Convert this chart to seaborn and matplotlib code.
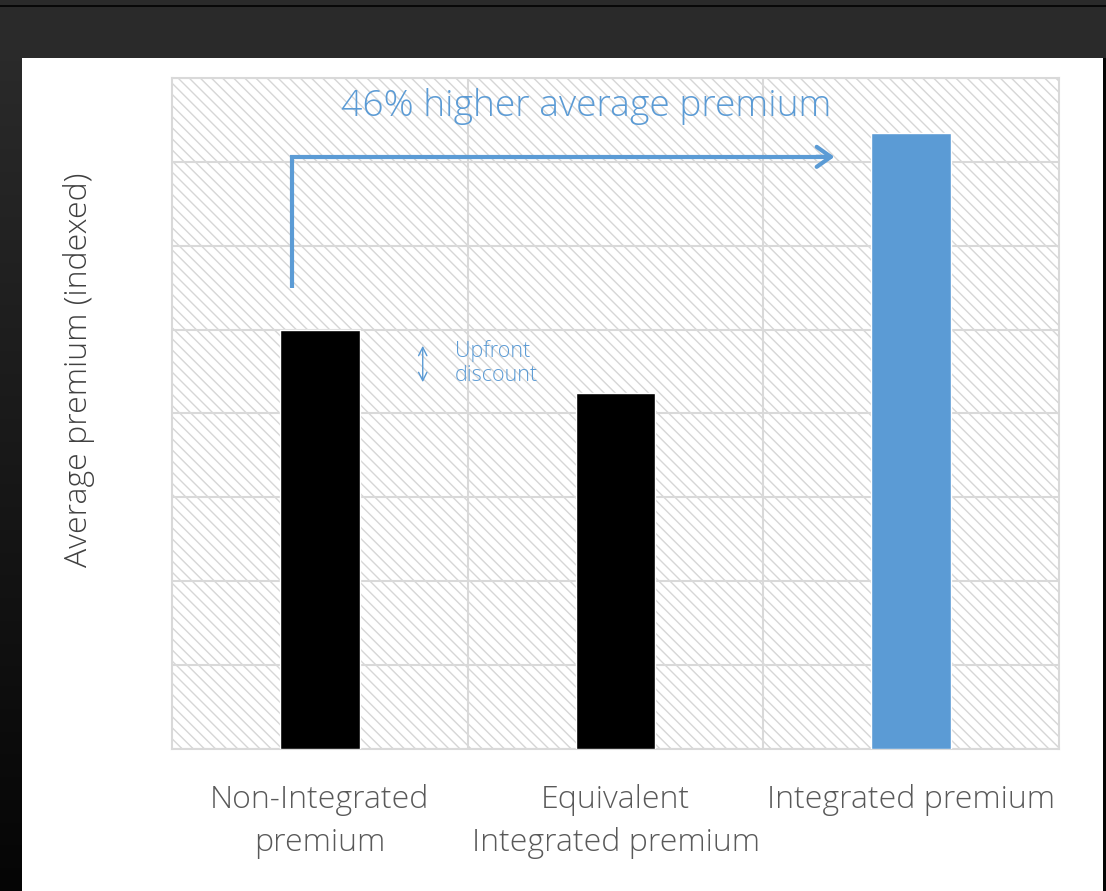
import numpy as np
import pandas as pd
import matplotlib
matplotlib.use("Agg")
import matplotlib.pyplot as plt
from matplotlib.patches import Rectangle
from matplotlib.lines import Line2D
import seaborn as sns

# Chart data (indexed premium, non-integrated = 100)
categories = ["Non-Integrated\npremium", "Equivalent\nIntegrated premium", "Integrated premium"]
values = [100, 85, 147]
bar_colors = ["#000000", "#000000", "#5B9BD5"]
y_ticks = [0, 20, 40, 60, 80, 100, 120, 140, 160]
headline = "46% higher average premium"
note = "Upfront\ndiscount"
y_label = "Average premium (indexed)"

BLUE = "#5B9BD5"

sns.set_theme(style="white")
plt.rcParams["font.family"] = ["Open Sans", "DejaVu Sans"]
plt.rcParams["hatch.linewidth"] = 1.0

W, H = 1106, 891
fig = plt.figure(figsize=(W / 100, H / 100), dpi=100)
fig.patch.set_facecolor("#2A2A2A")

# Window frame: thin black rule at top, shaded left edge, black right edge
fig.add_artist(Line2D([0, 1], [1 - 5.5 / H, 1 - 5.5 / H], color="#050505", lw=1.3,
                      transform=fig.transFigure, zorder=-10))
bg = fig.add_axes([0, 0, 22 / W, 1 - 58 / H], zorder=-10)
grad = np.linspace(0, 1, 256).reshape(-1, 1)
bg.imshow(grad, aspect="auto", cmap=matplotlib.colors.LinearSegmentedColormap.from_list(
    "edge", ["#2A2A2A", "#050505"]), extent=[0, 1, 0, 1])
bg.set_axis_off()
fig.add_artist(Rectangle((1103 / W, 0), 3 / W, 1 - 58 / H, transform=fig.transFigure,
                         facecolor="#050505", edgecolor="none", zorder=-10))
fig.add_artist(Rectangle((22 / W, 0), (1103 - 22) / W, 1 - 58 / H, transform=fig.transFigure,
                         facecolor="white", edgecolor="none", zorder=-10))

ax = fig.add_axes([172 / W, 1 - 749 / H, (1059 - 172) / W, (749 - 78) / H])
ax.patch.set_alpha(0)
ax.add_patch(Rectangle((0, 0), 1, 1, transform=ax.transAxes, facecolor="white",
                       edgecolor="#D6D6D6", hatch="\\\\\\", lw=0, zorder=0.1))

df = pd.DataFrame({"category": categories, "value": values})
sns.barplot(data=df, x="category", y="value", hue="category", palette=bar_colors,
            width=0.27, saturation=1, legend=False, ax=ax, zorder=3)

ax.set_xlim(-0.5, 2.5)
ax.set_ylim(0, 160)
ax.set_yticks(y_ticks)
ax.set_yticklabels([])
ax.set_xticks([0, 1, 2])
ax.set_xticks([0.5, 1.5], minor=True)
ax.set_axisbelow(True)
ax.grid(True, axis="y", which="major", color="#D9D9D9", lw=1.5, zorder=0.5)
ax.grid(True, axis="x", which="minor", color="#D9D9D9", lw=1.5, zorder=0.5)
ax.grid(False, axis="x", which="major")
ax.tick_params(axis="both", which="both", length=0)
ax.tick_params(axis="x", pad=25.5, labelsize=23, labelcolor="#595959")
for lbl in ax.get_xticklabels():
    lbl.set_linespacing(1.45)
    lbl.set_fontweight("light")
for s in ax.spines.values():
    s.set_visible(True)
    s.set_color("#D9D9D9")
    s.set_linewidth(1.5)
ax.set_xlabel("")
ax.set_ylabel(y_label, fontsize=23, color="#404040", fontweight="light")
ax.yaxis.set_label_coords(-0.087, 0.565)

# Elbow arrow from the first bar to the integrated bar
x0, y0, y1, x1 = -0.095, 110, 141.2, 1.75
ax.plot([x0, x0, x1 - 0.02], [y0, y1, y1], color=BLUE, lw=3, solid_joinstyle="miter",
        solid_capstyle="butt", zorder=4)
ax.annotate("", xy=(x1, y1), xytext=(x1 - 0.08, y1),
            arrowprops=dict(arrowstyle="->,head_length=0.85,head_width=0.6",
                            color=BLUE, lw=3), zorder=4)
ax.text(0.902, 153.2, headline, color=BLUE, fontsize=26.8, fontweight="light",
        ha="center", va="center", zorder=4)

# Upfront discount marker
ax.annotate("", xy=(0.348, 96.8), xytext=(0.348, 86.8),
            arrowprops=dict(arrowstyle="<->,head_length=0.5,head_width=0.25",
                            color=BLUE, lw=1), zorder=4)
ax.text(0.456, 92.0, note, color=BLUE, fontsize=15.5, fontweight="light",
        ha="left", va="center", linespacing=1.15, zorder=4)

fig.savefig("out.png", dpi=100, facecolor=fig.get_facecolor())
